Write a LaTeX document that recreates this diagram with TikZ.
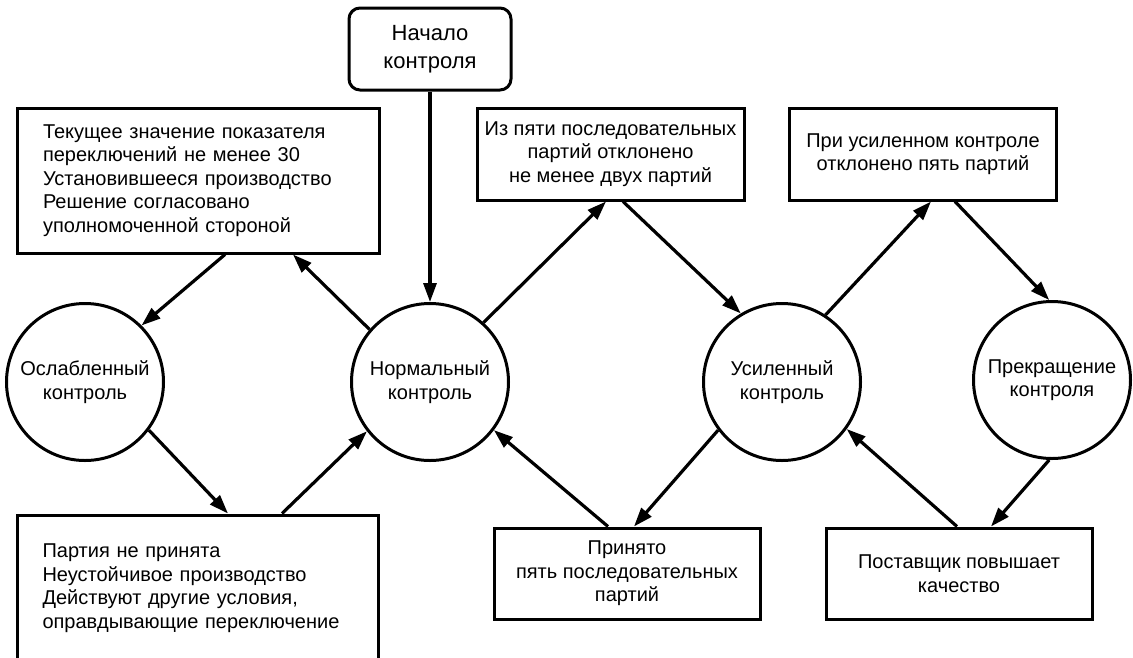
\documentclass[tikz,border=0pt]{standalone}
\usepackage{fontspec}
\setmainfont{Liberation Sans}
\usetikzlibrary{arrows.meta,calc}
\begin{document}
\begin{tikzpicture}[x=1pt,y=-1pt,
  every node/.style={font=\fontsize{20}{23.5}\selectfont},
  box/.style={draw,line width=3pt,rectangle,inner sep=0pt,align=center},
  state/.style={draw,line width=3pt,circle,minimum size=157pt,inner sep=0pt,align=center},
  arr/.style={line width=3.2pt,-{Triangle[length=19pt,width=13pt]}},
]
\useasboundingbox (0,0) rectangle (1133,657);
% boxes
\node[box,rounded corners=11pt,minimum width=162pt,minimum height=82pt,
  font=\fontsize{22}{27.5}\selectfont] (start) at (430,49) {Начало\\контроля};
\node[box,align=left,text width=310pt,inner xsep=26pt,minimum height=145pt] (tl) at (198,180.5)
  {Текущее значение показателя\\переключений не менее 30\\Установившееся производство\\Решение согласовано\\уполномоченной стороной};
\node[box,minimum width=267pt,minimum height=92pt] (b2) at (610.5,154)
  {Из пяти последовательных\\партий отклонено\\не менее двух партий};
\node[box,minimum width=267pt,minimum height=92pt] (b3) at (923,154)
  {При усиленном контроле\\отклонено пять партий};
\node[box,align=left,text width=311pt,inner xsep=25pt,minimum height=146pt] (bl) at (198,588)
  {Партия не принята\\Неустойчивое производство\\Действуют другие условия,\\оправдывающие переключение};
\node[box,minimum width=266pt,minimum height=91pt] (bm) at (627,573.5)
  {Принято\\пять последовательных\\партий};
\node[box,minimum width=266pt,minimum height=91pt] (br) at (959,573.5)
  {Поставщик повышает\\качество};
% states
\node[state] (osl) at (85,382) {Ослабленный\\контроль};
\node[state] (norm) at (430,382) {Нормальный\\контроль};
\node[state] (usil) at (782,382) {Усиленный\\контроль};
\node[state] (prekr) at (1052,380) {Прекращение\\контроля};
% connectors
\draw[arr] (start.south) -- (norm.north);
\draw[arr] ([xshift=27pt]tl.south) -- (osl.45);
\draw[arr] (norm.139) -- ([xshift=95pt]tl.south);
\draw[arr] (osl.-37) -- ([xshift=30pt]bl.north);
\draw[arr] ([xshift=84pt]bl.north) -- (norm.218);
\draw[arr] (norm.48) -- ([xshift=-4.5pt]b2.south);
\draw[arr] ([xshift=12.5pt]b2.south) -- (usil.121);
\draw[arr] (usil.57) -- ([xshift=8pt]b3.south);
\draw[arr] ([xshift=32pt]b3.south) -- (prekr.92);
\draw[arr] (prekr.-92) -- ([xshift=32pt]br.north);
\draw[arr] ([xshift=-2pt]br.north) -- (usil.-36);
\draw[arr] (usil.217) -- ([xshift=7pt]bm.north);
\draw[arr] ([xshift=-19pt]bm.north) -- (norm.-37);
\end{tikzpicture}
\end{document}
